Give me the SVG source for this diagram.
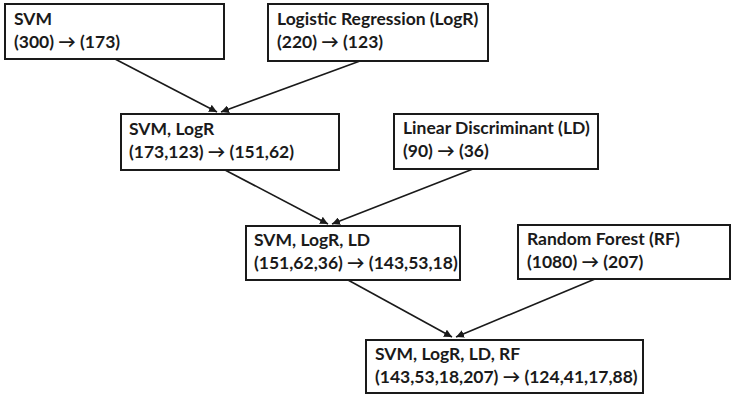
<svg xmlns="http://www.w3.org/2000/svg" width="732" height="396" viewBox="0 0 732 396">
<style>
.box{fill:#fff;stroke:#1a1a1a;stroke-width:2}
.t{font-family:Lato,"Open Sans","Liberation Sans",sans-serif;font-weight:bold;font-size:17.5px;fill:#1a1a1a}
.c{stroke:#1a1a1a;stroke-width:1.6;fill:none;marker-end:url(#ah)}
</style>
<defs>
<marker id="ah" viewBox="0 0 10 10" refX="10" refY="5" markerWidth="5" markerHeight="5" orient="auto" markerUnits="strokeWidth">
<path d="M0,0 L10,5 L0,10 z" fill="#1a1a1a"/>
</marker>
</defs>
<rect width="732" height="396" fill="#fff"/>
<g id="connectors">
<line class="c" x1="115" y1="59" x2="217" y2="112"/>
<line class="c" x1="360" y1="61" x2="221" y2="112"/>
<line class="c" x1="225" y1="170" x2="328" y2="224"/>
<line class="c" x1="473" y1="169" x2="332" y2="224"/>
<line class="c" x1="348" y1="280" x2="452" y2="337"/>
<line class="c" x1="595" y1="279" x2="456" y2="337"/>
</g>
<g id="n-svm">
<rect class="box" x="5" y="4" width="219" height="55"/>
<text class="t" x="14" y="25">SVM</text>
<text class="t" x="14" y="48">(300) → (173)</text>
</g>
<g id="n-logr">
<rect class="box" x="268" y="4" width="220" height="57"/>
<text class="t" x="277" y="25">Logistic Regression (LogR)</text>
<text class="t" x="277" y="48">(220) → (123)</text>
</g>
<g id="n-svm-logr">
<rect class="box" x="121" y="114" width="218" height="56"/>
<text class="t" x="129" y="135">SVM, LogR</text>
<text class="t" x="129" y="158">(173,123) → (151,62)</text>
</g>
<g id="n-ld">
<rect class="box" x="394" y="114" width="204" height="55"/>
<text class="t" x="403" y="134">Linear Discriminant (LD)</text>
<text class="t" x="403" y="157">(90) → (36)</text>
</g>
<g id="n-svm-logr-ld">
<rect class="box" x="246" y="226" width="214" height="54"/>
<text class="t" x="254" y="246">SVM, LogR, LD</text>
<text class="t" x="254" y="269">(151,62,36) → (143,53,18)</text>
</g>
<g id="n-rf">
<rect class="box" x="518" y="225" width="212" height="54"/>
<text class="t" x="527" y="245">Random Forest (RF)</text>
<text class="t" x="527" y="268">(1080) → (207)</text>
</g>
<g id="n-all">
<rect class="box" x="366" y="340" width="277" height="53"/>
<text class="t" x="375" y="360">SVM, LogR, LD, RF</text>
<text class="t" x="375" y="383">(143,53,18,207) → (124,41,17,88)</text>
</g>
</svg>
